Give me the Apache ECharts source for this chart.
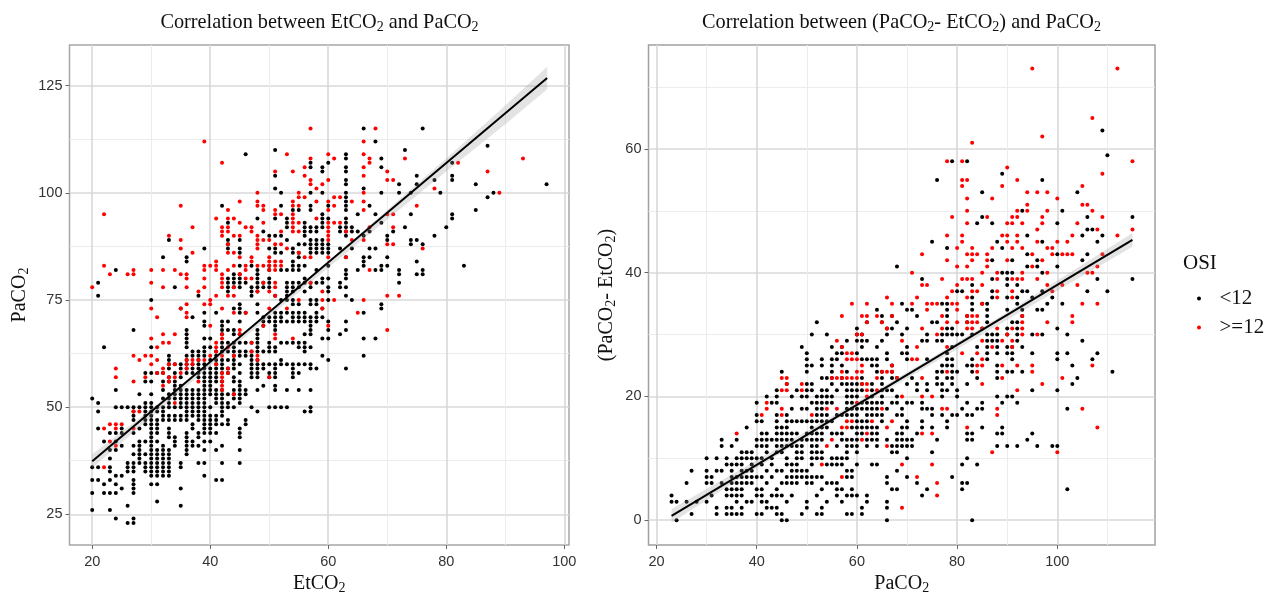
<!DOCTYPE html>
<html><head><meta charset="utf-8">
<style>html,body{margin:0;background:#fff}#c{width:1275px;height:592px}</style>
<script src="https://cdn.jsdelivr.net/npm/echarts@6/dist/echarts.min.js"></script>
</head><body><div id="c"></div>
<script>
// Left panel: [EtCO2, [PaCO2 values]]
const leftBlack = [
[20,[26,30,33,36,52]],[21,[33,36,45,49,51,76,79]],[22,[30,32,42,64]],[23,[26,30,33,35,36,38,40,44]],
[24,[24,30,32,34,40,42,44,50,54,82]],[25,[31,34,41,44,45,50]],[26,[23,27,35,36,37,50]],
[27,[23,24,30,31,32,33,35,36,37,39,41,44,47,48,49,50,68]],[28,[37,38,39,40,41,42,45,50,53]],
[29,[35,36,37,39,42,46,47,48,49,50,51,56,58]],
[30,[32,34,35,36,37,38,39,40,41,42,43,44,45,46,47,48,49,50,51,53,56,58,64,75]],
[31,[28,32,34,35,36,37,38,39,40,42,44,45,46,47,49,50,58]],
[32,[34,35,36,37,38,39,40,41,47,48,49,50,52,54,56,58,85]],
[33,[34,35,36,37,38,39,40,43,44,45,47,48,50,51,52,53,56,57,59,60,61,62,89]],
[34,[41,42,43,47,48,50,52,53,54,55,56,58,60,78]],
[35,[27,31,36,37,47,48,50,51,52,53,54,55,57,59,60,73]],
[36,[39,40,41,42,43,44,47,48,49,50,51,52,53,54,58,59,60,61,62,64,65,66,67,68,84,85]],
[37,[41,42,45,46,48,49,50,51,52,53,54,58,59,60,62,63,71]],
[38,[37,41,43,44,47,48,49,50,51,52,53,54,57,58,59,60,61,62,63,76]],
[39,[34,37,40,42,44,45,46,47,48,49,50,51,52,53,54,55,56,57,58,59,60,62,63,64,66,69,70,72,87]],
[40,[42,44,45,46,47,48,50,53,54,55,56,57,58,59,61,64,66]],
[41,[33,40,44,46,47,48,51,52,53,54,56,57,58,59,60,61,62,63,72]],
[42,[33,37,41,46,48,49,50,51,52,53,54,56,58,59,60,61,63,64,65,67,68,69,70,97]],
[43,[46,47,50,51,53,58,59,61,63,65,68,70,77,78,79,80,87,88,89,93]],
[44,[50,52,53,54,56,57,59,60,61,62,63,64,65,67,68,73,78,79,80,81]],
[45,[37,40,43,44,45,51,52,53,54,55,56,58,60,62,63,65,67,70,72,73,74,78,79,80,81,83,86,87,89]],
[46,[46,47,53,54,62,63,65,72,79,109]],
[47,[50,57,58,59,60,61,62,63,65,76,77,78,83]],
[48,[49,54,57,58,59,60,61,63,64,65,66,67,68,72,74,77,78,79,80,81,82,94]],
[49,[55,59,60,63,69,70,71,78,79,91]],
[50,[50,57,58,60,63,64,65,70,71,78,79,80,82,83,87,90]],
[51,[50,54,55,57,58,59,60,63,64,68,69,70,71,72,76,86,87,90,94,101,104,110]],
[52,[50,60,61,65,70,71,72,75,82,86,90,97,100]],
[53,[50,54,60,65,70,72,75,76,77,78,79,82,89,92,93,94]],
[54,[57,58,59,60,65,70,71,72,74,75,77,78,79,82,83,84,86,87,96]],
[55,[54,58,60,64,65,70,71,72,74,78,79,82,83,85,86,88,96]],
[56,[49,60,63,64,65,67,70,71,72,77,79,80,83,88,90,91,92,93]],
[57,[49,50,54,59,60,64,67,68,69,70,71,74,75,78,79,86,87,88,89,91,92,96,97,100,106,107]],
[58,[59,70,71,72,74,75,79,82,86,87,88,89,91,92]],
[59,[62,66,71,73,79,80,86,87,88,89,92,93,94,95,100,105,106]],
[60,[61,66,68,70,75,77,78,80,83,86,87,88,94,97,107]],
[62,[67,78,79,87,91,92]],[63,[59,68,70,76,78,80,81,82,85,90,91,92,93,94,96,97,98,99,100,102,103,105,106,108,109]],
[64,[75,87,91,92]],[65,[82,91,95]],[66,[62,66,72,83,84,85,90,101,115]],[67,[85,87,91,97]],
[68,[66,82,87,95,112]],[69,[73,74,82,83,93,100,106,108]],[70,[83,85,89,90]],[71,[91]],
[72,[79,81,82,100,102]],[73,[92,110]],[74,[88,89,95,100]],[75,[81,84,89,102,104]],
[76,[81,82,88,115]],[78,[90,103]],[79,[100]],[80,[92]],[81,[94,95,103,104,107]],[83,[83]],
[85,[96,102]],[87,[99,111]],[88,[100]],[97,[102]]
];
const leftRed = [
[20,[78]],[22,[36,45,83,95]],[23,[42,46,81]],[24,[41,45,46,57,59]],[25,[46]],[26,[81]],
[27,[45,49,56,62,81,82]],[28,[49,61]],[29,[57,62]],[30,[60,62,66,73,79,82]],[31,[58,61,64,71]],
[32,[55,58,59,65,67,78,82]],[33,[56,57,60,65,90]],[34,[51,57,60,67,82]],[35,[58,73,81,87,89,97]],
[36,[59,60,61,71,72,74,78,80,81]],[37,[60,61,86,92]],[38,[56,61,77]],[39,[61,74,78,80,82,83,112]],
[40,[62,69,74,75,83]],[41,[60,63,64,65,76,82,83,84,94]],
[42,[54,55,56,57,58,62,66,67,73,78,79,80,81,90,91,92,107]],[43,[58,59,64,76,82,86,88,91,92,94,96]],
[44,[53,62,72,76,78,83,86,90,94]],[45,[67,68,81,85,90,93,98]],[46,[72,80,82,83,92]],
[47,[63,65,80,84,85,91,92]],[48,[61,62,77,83,87,88,89,90,97,98,100]],[49,[69,79,83,89,93,96,97]],
[50,[57,73,77,82,83,84,85,89]],[51,[66,67,76,78,79,82,83,84,88,95,96,105]],
[52,[83,84,88,91,95]],[53,[73,87,109]],[54,[66,91,92,93,94,95,97,98,105]],
[55,[75,86,91,93,97,99,100]],[56,[85,99,104,106]],[57,[79,85,102,103,108,115]],
[58,[94,98,101]],[59,[73,75,77,102]],[60,[69,85,89,90,91,92,93,96,98,103,109]],
[61,[75,93,97,99,108]],[62,[93,99]],[63,[85,91]],[64,[89,98]],[65,[72]],
[66,[75,89,96,98,100,104,106,109,112]],[67,[82,92,107,108]],[68,[115]],[70,[68,76,88,95,103,105]],
[71,[88,92,95,103]],[72,[76]],[73,[108]],[75,[97]],[76,[87]],[78,[101]],[82,[107]],[87,[105]],[89,[100]],[93,[108]]
];
// Right panel: [PaCO2 - EtCO2, [PaCO2 values]]
const rightBlack = [
[0,[24,45,46,66,83]],[1,[27,32,34,35,36,37,40,41,44,45,49,52,53,58,59,61]],[2,[32,34,35,37,42,43,44,50,53,61,66]],
[3,[23,24,26,28,30,36,38,39,41,42,46,50,54,57,62,66]],[4,[23,31,34,35,36,37,40,41,43,44,45,47,52,56,58,59,60,62,73]],
[5,[34,35,36,37,40,41,44,53,56,57,59,67,68,74,81,102]],
[6,[26,30,31,33,35,36,37,38,39,42,45,46,47,48,50,51,54,55,56,66,72,81,82]],
[7,[30,31,35,36,37,38,39,40,41,43,46,47,48,49,50,51,52,53,58,59,66,70,79]],
[8,[27,30,32,33,35,37,38,39,42,44,45,47,48,49,50,58,59,68]],
[9,[34,35,36,37,39,41,43,46,47,48,51,54,55,56,57,60,63,64,81,84]],
[10,[30,32,34,36,37,38,39,40,41,43,46,48,49,51,52,53,55,56,57,58,70,82]],
[11,[37,38,39,42,44,45,48,49,51,52,53,58,60,67,68,75]],
[12,[33,35,40,41,42,44,45,46,47,48,49,51,52,56,58,59,60,62,64,67,68,69,70,71,88,90,92,96,99,100]],
[13,[33,36,40,41,42,43,44,45,46,47,49,50,51,52,53,57,58,59,60,62,63,64,66,68,69,70,71,76,82,83,94]],
[14,[41,42,44,45,46,47,48,50,51,52,53,55,56,57,60,61,63,64,68,69,72,82,83,88,89,95]],
[15,[38,44,45,46,51,53,54,59,60,61,62,63,64,69,70,73,75,78,85,89]],
[16,[40,41,44,46,47,48,49,50,51,52,53,54,55,60,61,62,65,70,73,78]],
[17,[40,44,46,52,53,54,56,57,58,59,60,62,63,64,65,68,69,75,77,79,80,82,83]],
[18,[47,49,50,52,53,58,59,60,61,62,63,64,66,69,73,74,75,81,84,85,102]],
[19,[40,43,44,51,52,53,54,55,58,59,61,62,63,64,65,67,68,70,71,73,82,85,89,92]],
[20,[42,44,47,49,50,52,53,54,55,58,59,60,63,65,68,77,80,88,90,91]],
[21,[44,48,50,51,53,54,56,58,59,60,61,63,65,66,67,72,74,77,78,80,95,100]],
[22,[46,50,51,55,57,58,59,60,61,63,65,70,72,74,76,77,79,82,103]],
[23,[53,54,55,57,61,65,67,68,71,76,78,79,84,88,104]],
[24,[45,50,55,58,64,65,67,76,77,79,80,83,88,90,91,93,111]],
[25,[50,51,53,55,57,63,64,67,77,78,79,82,83,88,103]],
[26,[50,53,55,56,61,62,63,64,66,70,74,78,79,83,86,91,100,107]],
[27,[50,56,57,60,66,69,70,78,86,88,90,91,95,100,102,108]],
[28,[49,55,57,61,64,70,79,84,86,88,90,91,93]],
[29,[58,60,61,62,65,73,74,76,77,86,87,88,92,105]],
[30,[51,54,60,61,66,69,74,77,78,79,80,81,83,86,87,88,90,92,95,97,102]],
[31,[60,66,67,70,78,79,85,90,92,100]],[32,[52,62,65,68,75,76,82,86,91,92]],[33,[65,67,72,78,82,86,93]],
[34,[64,70,71,78,83,86,90,93,96,97]],[35,[69,77,78,83,85,86,92,98,101]],[36,[83,87,90,92,95,99]],
[37,[80,81,87,93,94,97,106,110]],[38,[83,90,92]],[39,[73,87,90,108,115]],[40,[89,90,91,97]],[41,[68,94,96,100]],
[42,[87,91,96,105]],[43,[94,100,106]],[44,[78,89]],[45,[75,88,97,108]],[46,[94,105,109]],[47,[106,107]],
[48,[84,87,100]],[49,[85,106,115]],[50,[93,101]],[53,[85,104]],[55,[76,97]],[56,[89]],[58,[79,82]],[59,[110]],[63,[109]]
];
const rightRed = [
[2,[69]],[4,[76]],[6,[76]],[7,[57,72]],[9,[53,69,75]],[11,[87,100]],[12,[54,66]],[13,[55,61]],[14,[36,62,73,75]],
[15,[57,58,66,82,108]],[16,[58,59,63,67]],[17,[41,45,51,88]],[18,[42,45,54,56,65,77,78,88,105]],[19,[42,60]],
[20,[62,69,73,75]],[21,[45,46,49,62,64,92]],[22,[46,49,61,62,85,97]],
[23,[45,46,55,56,57,58,59,60,64,68,73,89,101]],[24,[57,60,61,65,66,67,78,84,95]],[25,[61,67,84,85,89,92,95,107]],
[26,[58,59,60,71,72,85]],[27,[58,59,81,84]],[28,[57,72,78,87,91]],[29,[56,69,85,89,91]],[30,[60,61,76,90,93,96]],
[31,[66,73,77,82,83,85,88,91,93]],[32,[62,65,78,80,82,83,84,93,98,103]],[33,[57,61,62,64,67,77,82,83,84,93,103]],
[34,[74,80]],[35,[59,62,67,71,74,75,76,79,80,85,105,108]],[36,[66,72,78,82,88,91]],
[37,[79,83,84,88,91,99]],[38,[73,74,80,85,98,101,104]],[39,[77,81,82,83,88,91,92,93,96]],
[40,[71,85,88,93,98,106,107]],[41,[80,82,86,95,108]],[42,[78,83,86,90,97]],
[43,[73,82,83,84,86,95,99,101,102,103,109]],[44,[80,83,87,91,93,98,99]],[45,[81,90,92,96,100,102]],
[46,[78,81,89,90,92,103,112]],[47,[96,108,115]],[48,[82,90,91,93,97,104]],[49,[79,86,91,92,97,109]],
[50,[82,92,94,98,107]],[51,[94,105,106]],[52,[82,87,100]],[53,[94,96,98]],[54,[81,89,105]],[55,[81,82,92]],
[56,[109]],[57,[90]],[58,[78,81,115]],[61,[83]],[62,[97]],[65,[107]],[73,[95,112]]
];
const leftFit = [[20,37.4],[97.1,126.8]];
const leftBand = [[20,35.8,39.0],[30,47.7,49.6],[40,59.6,60.8],[50,71.1,72.3],[60,82.5,84],[70,93.8,96],[80,105,108],[90,116,120.4],[97.1,124.2,129.4]];
const rightFit = [[23,0.7],[115,45.3]];
const rightBand = [[23,-0.4,1.8],[40,8.5,9.7],[60,18.3,19.1],[70,22.9,23.9],[90,32.4,33.6],[115,44.2,46.4]];
const leftXTicks = [20,40,60,80,100], leftYTicks = [25,50,75,100,125];
const leftXMinor = [30,50,70,90], leftYMinor = [37.5,62.5,87.5,112.5];
const rightXTicks = [20,40,60,80,100], rightYTicks = [0,20,40,60];
const rightXMinor = [30,50,70,90,110], rightYMinor = [10,30,50,70];

const xyPairs = rows => rows.flatMap(([x, ys]) => ys.map(y => [x, y]));
const yxPairs = rows => rows.flatMap(([y, xs]) => xs.map(x => [x, y]));
const serif = '"Liberation Serif","Times New Roman",serif';
const sans = '"Liberation Sans",Arial,sans-serif';
const rich = size => ({
  n:{fontFamily:serif,fontSize:size,fontWeight:'normal',color:'#111'},
  s:{fontFamily:serif,fontSize:Math.round(size*0.68),fontWeight:'normal',color:'#111',verticalAlign:'bottom',padding:[Math.round(size*0.45),0,0,0]}
});
const major = '#d8d8d8', minor = '#ececec';
function axis(grid, min, max, ticks, minorTicks, name, gap, margin){
  const base = {type:'value', gridIndex:grid, min, max, scale:true};
  return [{...base, name, nameLocation:'middle', nameGap:gap, nameTextStyle:{rich:rich(20)},
    axisLine:{show:false,onZero:false}, axisTick:{show:true,length:4,customValues:ticks,lineStyle:{color:'#666',width:1}},
    axisLabel:{customValues:ticks,fontFamily:sans,fontSize:14.5,color:'#333',margin},
    splitLine:{show:true,lineStyle:{color:major,width:1.6}}},
   {...base, axisLine:{show:false,onZero:false}, axisLabel:{show:false},
    axisTick:{show:false,customValues:minorTicks},
    splitLine:{show:true,lineStyle:{color:minor,width:1}}}];
}
const xAxis = [
  ...axis(0,16.15,100.8,leftXTicks,leftXMinor,'{n|EtCO}{s|2}',24,9),
  ...axis(1,18.4,119.5,rightXTicks,rightXMinor,'{n|PaCO}{s|2}',24,9)
];
const yAxis = [
  ...axis(0,17.84,134.5,leftYTicks,leftYMinor,'{n|PaCO}{s|2}',38,7),
  ...axis(1,-4,76.8,rightYTicks,rightYMinor,'{n|(PaCO}{s|2}{n|- EtCO}{s|2}{n|)}',30,7)
];
const dots = (name,color,data,ax,z) => ({type:'scatter',name,data,xAxisIndex:ax,yAxisIndex:ax,symbolSize:4,
  itemStyle:{color,opacity:1},silent:true,z,animation:false});
const band = (data,ax) => ({type:'custom',data,xAxisIndex:ax,yAxisIndex:ax,silent:true,z:5,animation:false,
  encode:{x:0,y:[1,2]},
  renderItem:(p,api)=>{
    if(p.dataIndex!==0) return null;
    const up=data.map(d=>api.coord([d[0],d[2]])), lo=data.map(d=>api.coord([d[0],d[1]])).reverse();
    return {type:'polygon',shape:{points:up.concat(lo)},style:{fill:'rgba(150,150,150,0.27)'}};
  }});
const fit = (data,ax) => ({type:'line',data,xAxisIndex:ax,yAxisIndex:ax,showSymbol:false,silent:true,z:6,animation:false,
  lineStyle:{color:'#000',width:2}});
const title = (text,left) => ({text,left,top:6,textAlign:'center',textStyle:{fontWeight:'normal',rich:rich(20.3)}});

const chart = echarts.init(document.getElementById('c'),null,{renderer:'canvas'});
chart.setOption({
  backgroundColor:'#fff',animation:false,
  title:[title('{n|Correlation between EtCO}{s|2}{n| and PaCO}{s|2}',314.5),
         title('{n|Correlation between (PaCO}{s|2}{n|- EtCO}{s|2}{n|) and PaCO}{s|2}',896.5),
         {text:'OSI',left:1178,top:248,textStyle:{fontFamily:serif,fontSize:21,fontWeight:'normal',color:'#111'}}],
  grid:[{left:69.5,top:45,width:499.5,height:500,outerBoundsMode:'none',show:true,borderColor:'#a6a6a6',borderWidth:1.5,backgroundColor:'#fff'},
        {left:648.5,top:45,width:506.5,height:500,outerBoundsMode:'none',show:true,borderColor:'#a0a0a0',borderWidth:1.5,backgroundColor:'#fff'}],
  xAxis,yAxis,
  legend:{data:['<12','>=12'],left:1192,top:283,orient:'vertical',itemGap:8,itemWidth:39,itemHeight:4,icon:'circle',
    textStyle:{fontFamily:serif,fontSize:21,color:'#111',padding:[0,0,0,-4]},selectedMode:false},
  series:[
    dots('<12','#000',xyPairs(leftBlack),0,2), dots('>=12','#f00',xyPairs(leftRed),0,3),
    band(leftBand,0), fit(leftFit,0),
    dots('<12','#000',yxPairs(rightBlack),2,2), dots('>=12','#f00',yxPairs(rightRed),2,3),
    band(rightBand,2), fit(rightFit,2)
  ]
});
</script></body></html>
